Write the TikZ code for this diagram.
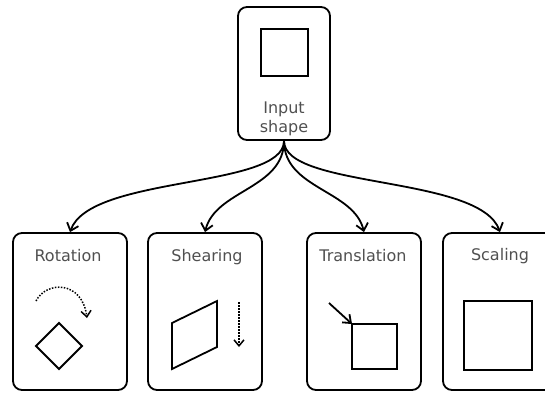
\documentclass[tikz,border=0pt]{standalone}
\usepackage{fontspec}
\setmainfont{DejaVu Sans}
\usetikzlibrary{arrows.meta}
\definecolor{txt}{HTML}{505050}
\begin{document}
\begin{tikzpicture}[x=1pt,y=-1pt,
  box/.style={draw,line width=1.8pt,rounded corners=9pt,minimum width=114pt,minimum height=157pt,inner sep=0pt},
  topbox/.style={draw,line width=1.8pt,rounded corners=9pt,minimum width=92pt,minimum height=133pt,inner sep=0pt},
  lbl/.style={text=txt,font=\fontsize{16}{20}\selectfont,inner sep=0pt,anchor=base},
  shp/.style={draw,line width=1.8pt},
  conn/.style={line width=1.8pt,-{Straight Barb[length=7pt,width=12pt,line width=1.8pt]}},
  dots/.style={line width=1.5pt,dash pattern=on 1.5pt off 1.5pt,-{Straight Barb[length=6pt,width=10pt,line width=1.5pt,sep=0pt]}}
]
\useasboundingbox (0,0) rectangle (545,392);
\clip (0,0) rectangle (545,392);
% top box
\node[topbox] (in) at (284,73.5) {};
\draw[shp] (261,29) rectangle (308,76);
\node[lbl] (intext1) at (284,113) {Input};
\node[lbl] (intext2) at (284,132) {shape};
% bottom boxes
\node[box] (rot) at (70,311.5) {};
\node[box] (she) at (205,311.5) {};
\node[box] (tra) at (364,311.5) {};
\node[box] (sca) at (500,311.5) {};
\node[lbl] (rott) at (68,261) {Rotation};
\node[lbl] (shet) at (207,261) {Shearing};
\node[lbl] (trat) at (363,261) {Translation};
\node[lbl] (scat) at (500,260) {Scaling};
% connectors
\draw[conn] (in.south) .. controls +(0,48) and (90,175) .. (rot.north);
\draw[conn] (in.south) .. controls +(0,48) and (215,190) .. (she.north);
\draw[conn] (in.south) .. controls +(0,48) and (354,190) .. (tra.north);
\draw[conn] (in.south) .. controls +(0,48) and (480,175) .. (sca.north);
% rotation
\draw[dots] (36,301) .. controls (46,281) and (82,280) .. (87,318);
\draw[shp] (59,323) -- (82,346) -- (59,369) -- (36,346) -- cycle;
% shearing
\draw[shp] (172,323) -- (217,301) -- (217,347) -- (172,369) -- cycle;
\draw[dots] (239,302) -- (239,347);
% translation
\draw[shp] (352,324) rectangle (397,369);
\draw[line width=1.8pt,-{Straight Barb[length=7pt,width=11pt,line width=1.8pt]}] (329,303) -- (352,324);
% scaling
\draw[shp] (464,301) rectangle (532,370);
\end{tikzpicture}
\end{document}
